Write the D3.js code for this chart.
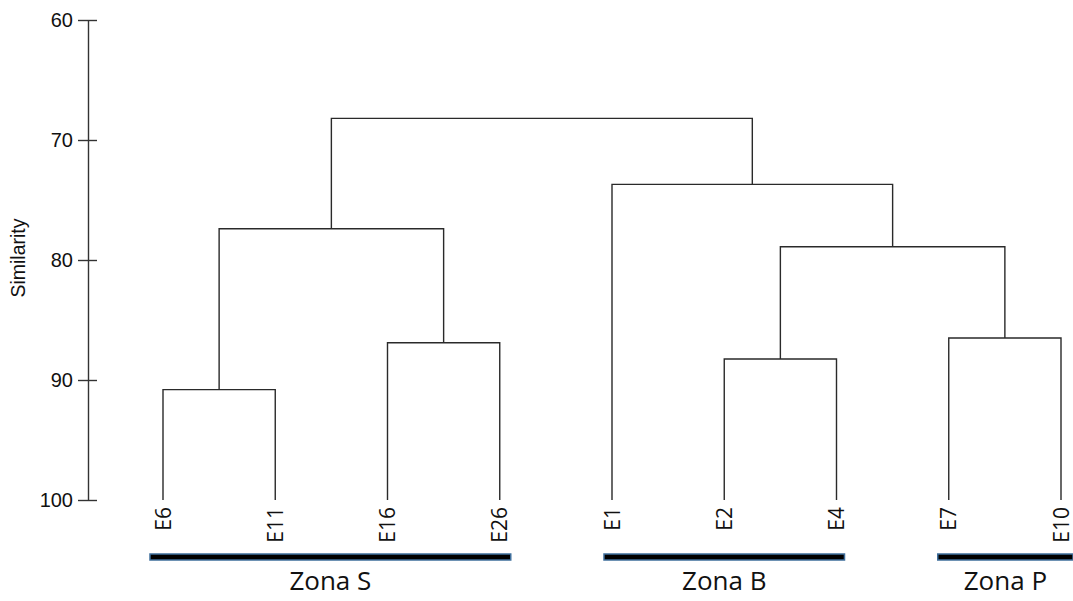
<!DOCTYPE html>
<html>
<head>
<meta charset="utf-8">
<script src="https://cdn.jsdelivr.net/npm/d3@7"></script>
<style>
  html, body { margin: 0; padding: 0; background: #fff; }
  svg { display: block; }
  .axis path, .axis line { stroke: #333; stroke-width: 1.4; }
  .axis text { font-family: "Liberation Sans", Arial, sans-serif; font-size: 20px; fill: #111; }
  .link { fill: none; stroke: #2a2a2a; stroke-width: 1.4; }
  .leaf-label { font-family: "Open Sans", sans-serif; font-size: 21px; fill: #111; }
  .zone-label { font-family: "Open Sans", sans-serif; font-size: 26px; fill: #111; }
</style>
</head>
<body>
<div id="chart"></div>
<script>
// leaf order as drawn, left to right
const leaves = ["E6", "E11", "E16", "E26", "E1", "E2", "E4", "E7", "E10"];

// merges: [left, right, similarity], left/right are leaf names or earlier merge ids ("m0", "m1", ...)
const merges = [
  ["E16", "E26", 86.9],   // m0
  ["E7", "E10", 86.5],    // m1
  ["E2", "E4", 88.25],    // m2
  ["E6", "E11", 90.8],    // m3
  ["m3", "m0", 77.4],     // m4
  ["m2", "m1", 78.9],     // m5
  ["E1", "m5", 73.7],     // m6
  ["m4", "m6", 68.2],     // m7
];

const yTicks = [60, 70, 80, 90, 100];

const zones = ["Zona S", "Zona B", "Zona P"];
const zoneFirst = ["E6", "E1", "E7"];
const zoneLast = ["E26", "E4", "E10"];

const width = 1073;
const height = 601;
const zonePad = [[13, 11], [8, 8], [11, 12]];

const svg = d3.select("#chart").append("svg")
  .attr("width", width)
  .attr("height", height);

const x = d3.scalePoint().domain(leaves).range([163, 1061]);
const y = d3.scaleLinear().domain([60, 100]).range([20, 500]);

// axis
const axis = svg.append("g")
  .attr("class", "axis")
  .attr("transform", "translate(88,0)")
  .call(d3.axisLeft(y).tickValues(yTicks).tickSize(10).tickPadding(5).tickSizeOuter(0));
axis.selectAll(".tick line").attr("x1", 9);
axis.select(".domain").attr("d", `M0.5,${y(60)}V${y(100)}`);

svg.append("text")
  .attr("transform", `translate(25,${(y(60) + y(100)) / 2 - 2}) rotate(-90)`)
  .attr("text-anchor", "middle")
  .style("font-family", "'Liberation Sans', Arial, sans-serif")
  .style("font-size", "19.5px")
  .style("fill", "#111")
  .text("Similarity");

// build node positions from merges
const nodes = new Map();
leaves.forEach((name) => nodes.set(name, { x: x(name), sim: 100 }));
merges.forEach(([a, b, sim], i) => {
  const na = nodes.get(a);
  const nb = nodes.get(b);
  nodes.set(`m${i}`, { x: (na.x + nb.x) / 2, sim, left: na, right: nb });
});

const linkLayer = svg.append("g");
linkLayer.selectAll("path")
  .data(merges.map((_, i) => nodes.get(`m${i}`)))
  .join("path")
  .attr("class", "link")
  .attr("d", (n) =>
    `M${n.left.x},${y(n.left.sim)}V${y(n.sim)}H${n.right.x}V${y(n.right.sim)}`
  );

// leaf labels
svg.append("g").selectAll("text")
  .data(leaves)
  .join("text")
  .attr("class", "leaf-label")
  .attr("transform", (d) => `translate(${x(d)},507) rotate(-90)`)
  .attr("text-anchor", "end")
  .attr("dy", "0.36em")
  .text((d) => d);

// zone bars
const zoneG = svg.append("g");
zones.forEach((z, i) => {
  const x0 = x(zoneFirst[i]) - zonePad[i][0];
  const x1 = x(zoneLast[i]) + zonePad[i][1];
  zoneG.append("rect")
    .attr("x", x0)
    .attr("y", 554)
    .attr("width", x1 - x0)
    .attr("height", 6)
    .attr("fill", "#000")
    .attr("stroke", "#3f6f9c")
    .attr("stroke-width", 1.5);
  zoneG.append("text")
    .attr("class", "zone-label")
    .attr("x", (x0 + x1) / 2)
    .attr("y", 590)
    .attr("text-anchor", "middle")
    .text(z);
});
</script>
</body>
</html>
